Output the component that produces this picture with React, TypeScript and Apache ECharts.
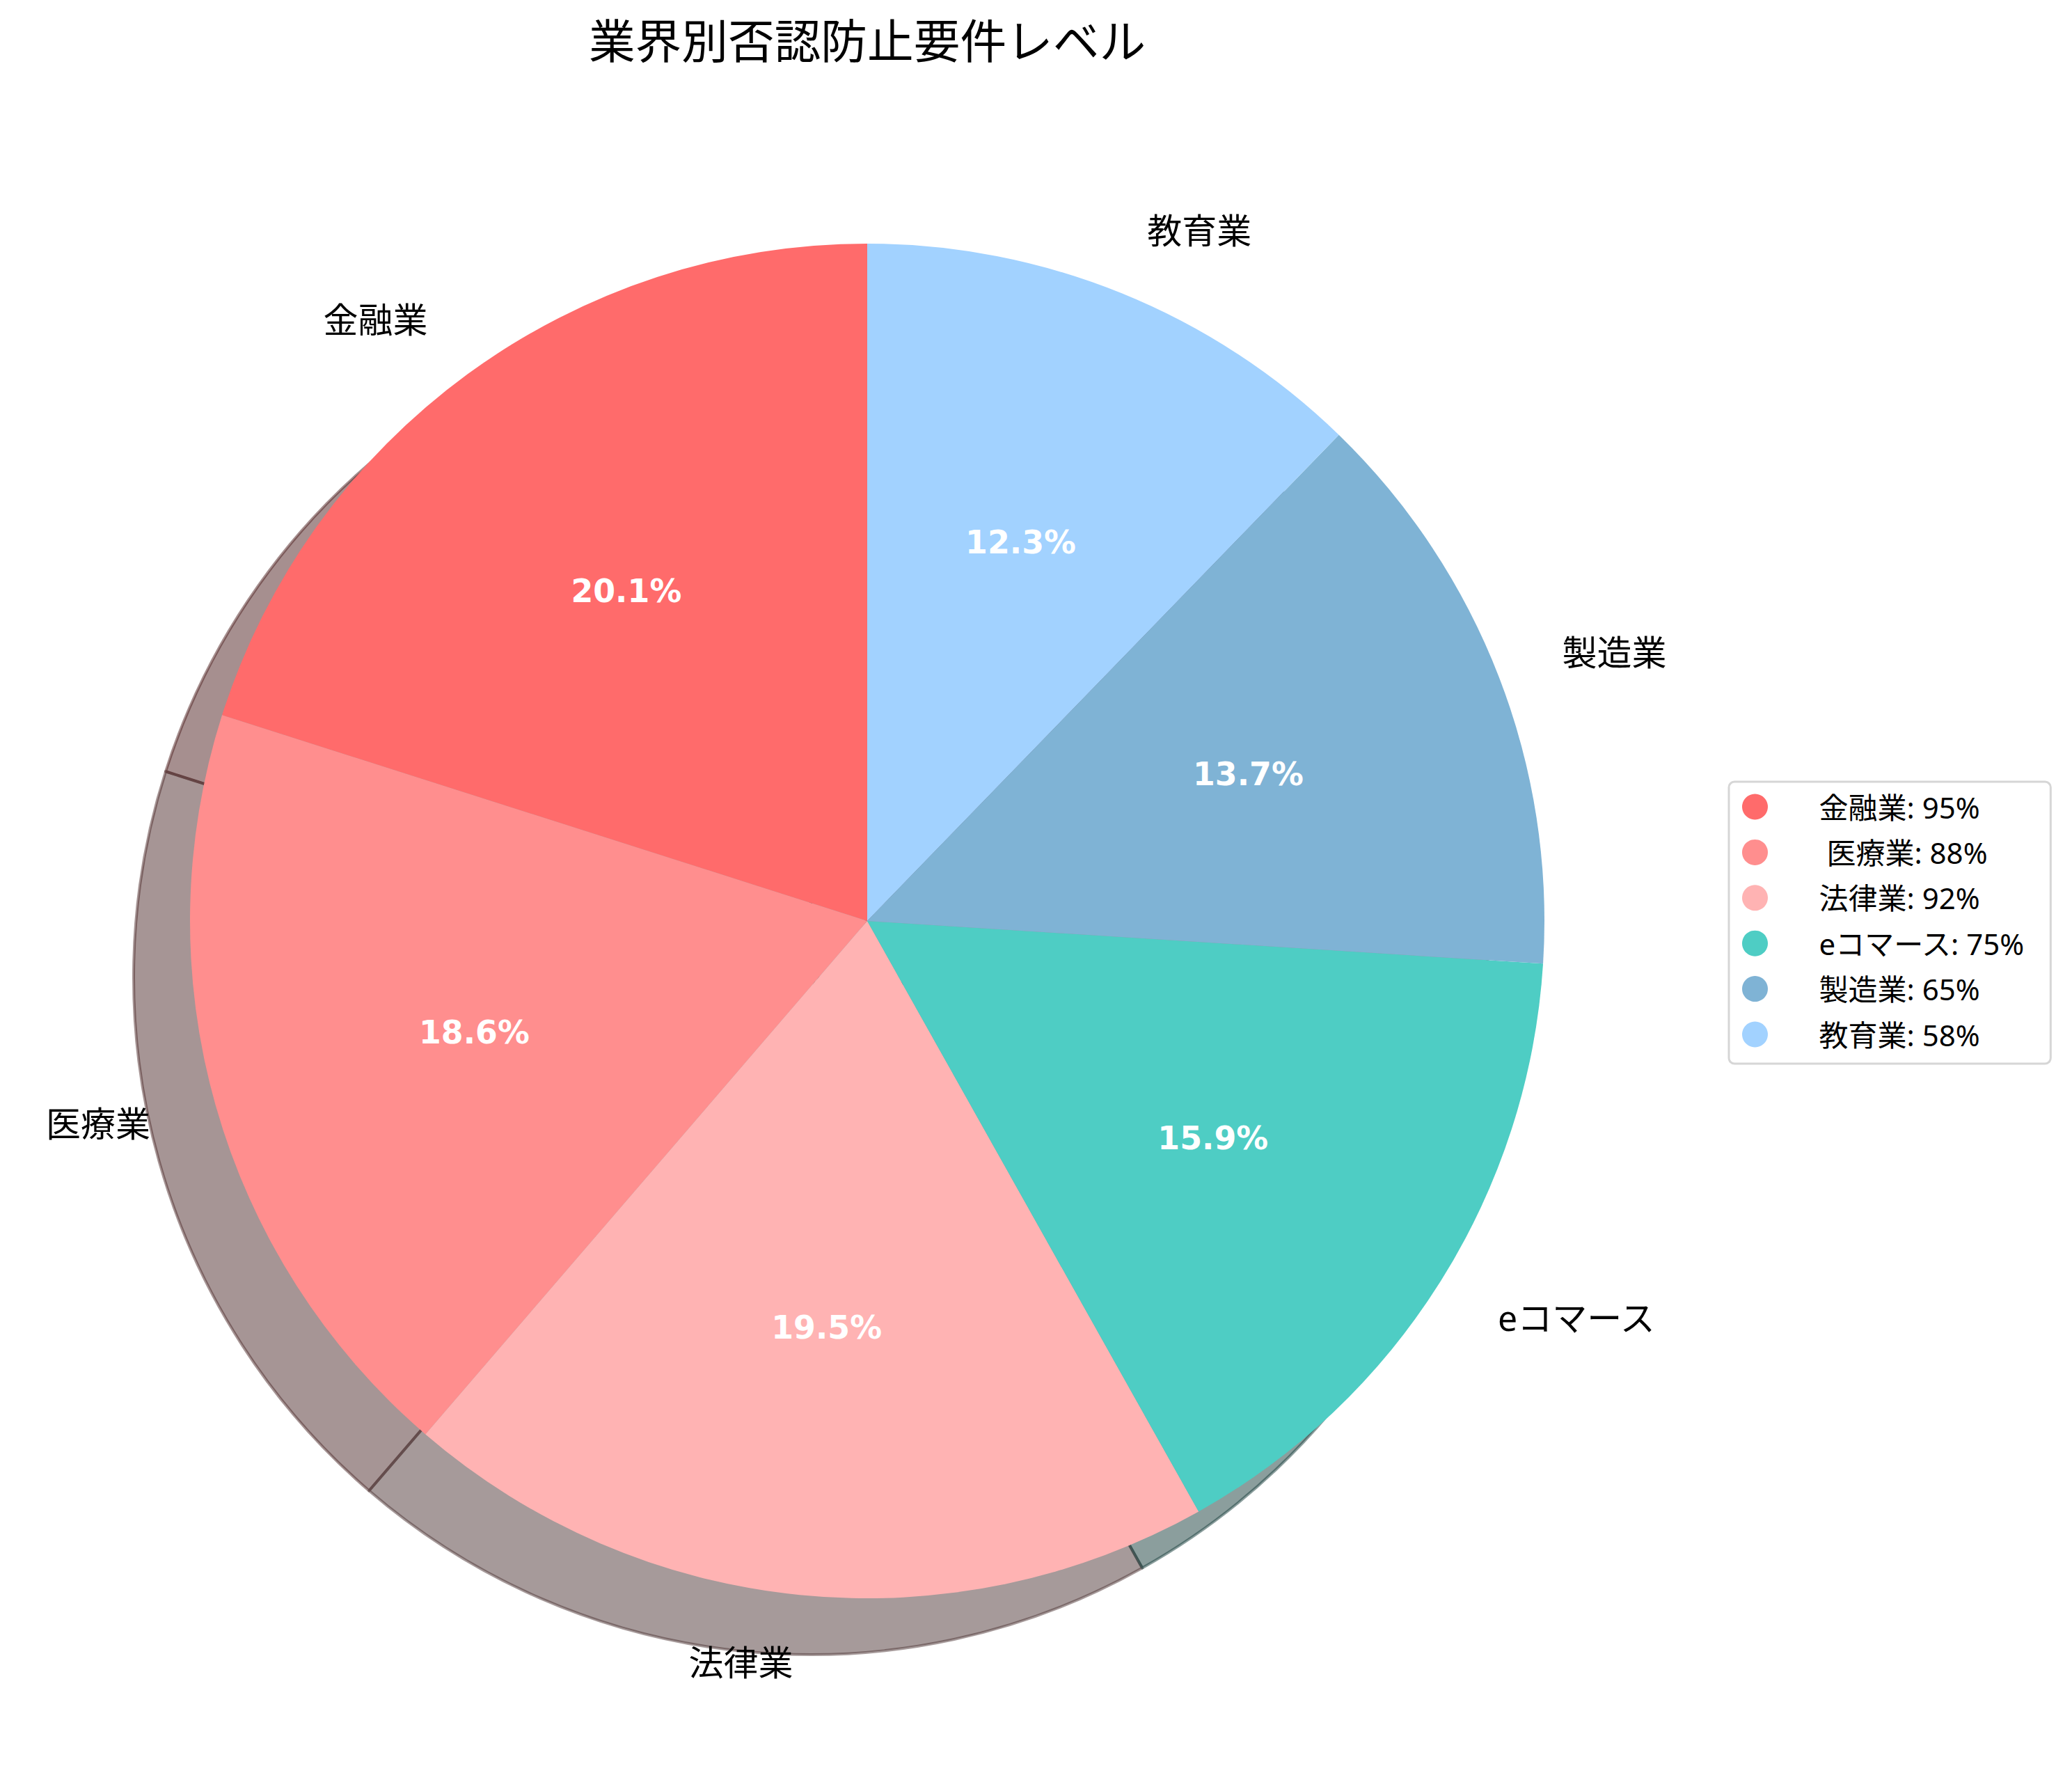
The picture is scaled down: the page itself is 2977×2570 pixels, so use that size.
import React, { useEffect, useRef } from "react";
import * as echarts from "echarts";

const categories = ["金融業", "医療業", "法律業", "eコマース", "製造業", "教育業"];
const values = [95, 88, 92, 75, 65, 58];
const legendLabels = ["金融業", "\u00a0医療業", "法律業", "eコマース", "製造業", "教育業"];
const colors = ["#FF6B6B", "#FF8E8E", "#FFB3B3", "#4ECDC4", "#7FB3D5", "#A2D2FF"];

const CX = 1246;
const CY = 1323;
const R = 973;
const SHADOW = 81;

// matplotlib-style shadow: 30% of the face colour at half alpha
const shade = (hex: string) => {
  const n = parseInt(hex.slice(1), 16);
  const r = Math.round(((n >> 16) & 255) * 0.3);
  const g = Math.round(((n >> 8) & 255) * 0.3);
  const b = Math.round((n & 255) * 0.3);
  return `rgba(${r},${g},${b},0.5)`;
};

const App = () => {
  const chartRef = useRef<HTMLDivElement>(null);

  useEffect(() => {
    if (!chartRef.current) return;
    const myChart = echarts.init(chartRef.current, null, { renderer: "svg" });
    const total = values.reduce((a, b) => a + b, 0);
    const jp = "'Noto Sans CJK JP', 'Noto Sans', sans-serif";
    const mixed = "'Noto Sans', 'Noto Sans CJK JP', sans-serif";

    const option = {
      animation: false,
      backgroundColor: "#ffffff",
      title: {
        text: "業界別否認防止要件レベル",
        left: CX,
        top: 22,
        padding: 0,
        textAlign: "center",
        textStyle: { fontFamily: jp, fontSize: 66.7, fontWeight: "normal", color: "#000" },
      },
      legend: {
        orient: "vertical",
        left: 2484,
        top: 1123,
        padding: [11, 36, 17, 19],
        selectedMode: false,
        icon: "circle",
        itemWidth: 80,
        itemHeight: 37,
        itemGap: 15.4,
        borderColor: "#d6d6d6",
        borderWidth: 3,
        borderRadius: 8,
        data: categories,
        formatter: (name: string) => {
          const i = categories.indexOf(name);
          return `${legendLabels[i]}: ${values[i]}%`;
        },
        textStyle: {
          fontFamily: mixed,
          fontSize: 42,
          lineHeight: 50,
          color: "#000",
          padding: [0, 0, 0, 47],
        },
      },
      series: [
        {
          name: "main",
          type: "pie",
          z: 2,
          center: [CX, CY],
          radius: [0, R],
          startAngle: 90,
          clockwise: false,
          avoidLabelOverlap: false,
          data: categories.map((c, i) => ({ name: c, value: values[i], itemStyle: { color: colors[i] } })),
          label: {
            show: true,
            position: "outside",
            formatter: "{b}",
            fontFamily: mixed,
            fontSize: 50,
            color: "#000",
            distanceToLabelLine: 0,
            verticalAlign: "middle",
          },
          labelLine: { show: false, length: R * 0.1, length2: 0 },
          emphasis: { disabled: true },
        },
        {
          name: "shadow",
          type: "pie",
          z: 1,
          silent: true,
          center: [CX - SHADOW, CY + SHADOW],
          radius: [0, R],
          startAngle: 90,
          clockwise: false,
          data: categories.map((c, i) => ({
            name: c,
            value: values[i],
            itemStyle: { color: shade(colors[i]), borderColor: shade(colors[i]), borderWidth: 4 },
          })),
          label: { show: false },
          labelLine: { show: false },
          emphasis: { disabled: true },
        },
        {
          name: "pct",
          type: "pie",
          z: 3,
          silent: true,
          center: [CX, CY],
          radius: [R * 0.2, R],
          startAngle: 90,
          clockwise: false,
          data: categories.map((c, i) => ({
            name: c,
            value: values[i],
            itemStyle: { color: "rgba(0,0,0,0)" },
          })),
          label: {
            show: true,
            position: "inside",
            formatter: (p: any) => `${((p.value / total) * 100).toFixed(1)}%`,
            fontFamily: "'DejaVu Sans', sans-serif",
            fontWeight: "bold",
            fontSize: 45.8,
            color: "#ffffff",
          },
          labelLine: { show: false },
          emphasis: { disabled: true },
        },
      ],
    };

    myChart.setOption(option as any);

    return () => {
      myChart.dispose();
    };
  }, []);

  return (
    <div
      ref={chartRef}
      style={{ position: "fixed", left: 0, top: 0, width: "2977px", height: "2570px" }}
    />
  );
};

export default App;
